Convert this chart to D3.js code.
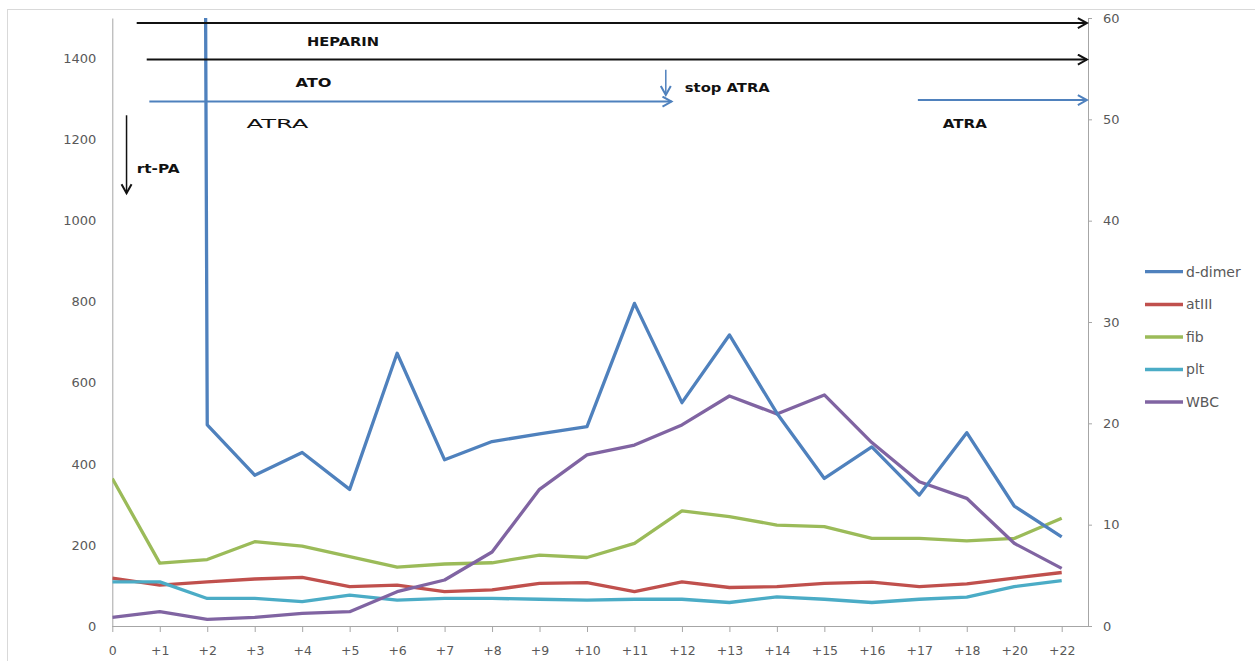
<!DOCTYPE html>
<html><head><meta charset="utf-8">
<script src="https://cdn.jsdelivr.net/npm/d3@7"></script>
<style>body{margin:0;background:#fff}svg{display:block}</style>
</head><body>
<script>
// ---- data ----
const categories = ["0","+1","+2","+3","+4","+5","+6","+7","+8","+9","+10","+11","+12","+13","+14","+15","+16","+17","+18","+20","+22"];
const dDimer = [null,30000,496,372,428,337,673,410,455,474,492,796,551,718,525,364,442,323,477,296,220];
const atIII  = [118,101,109,116,120,97,101,85,89,105,107,85,109,95,97,105,108,97,104,118,132];
const fib    = [364,155,164,208,197,171,145,153,156,175,169,204,284,270,249,245,216,216,210,216,266];
const plt    = [109,109,68,68,60,76,64,68,68,66,64,66,66,58,72,66,58,66,71,97,112];
const wbc    = [0.86,1.41,0.66,0.86,1.25,1.41,3.39,4.54,7.3,13.49,16.88,17.86,19.84,22.7,20.92,22.8,18.1,14.24,12.6,8.16,5.69];
const leftTicks  = [0,200,400,600,800,1000,1200,1400];
const rightTicks = [0,10,20,30,40,50,60];
const seriesNames = ["d-dimer","atIII","fib","plt","WBC"];
const seriesColors = ["#4F81BD","#C0504D","#9BBB59","#4BACC6","#8064A2"];

// ---- layout ----
const W = 1255, H = 661;
const pLeft = 112.3, lastX = 1061.7, pRight = 1088, pTop = 18, pBottom = 626;

const svg = d3.select("body").append("svg").attr("width", W).attr("height", H)
  .style("font-family", "'DejaVu Sans', sans-serif");

svg.append("rect").attr("x",7.5).attr("y",9.5).attr("width",1252).attr("height",660)
  .attr("fill","none").attr("stroke","#d9d9d9");

const x = d3.scalePoint().domain(categories).range([pLeft, lastX]);
const xi = d3.scaleLinear().domain([0, categories.length-1]).range([pLeft, lastX]);
const yL = d3.scaleLinear().domain([0,1500]).range([pBottom, pTop]);
const yR = d3.scaleLinear().domain([0,60]).range([pBottom, pTop]);

const axisColor = "#a6a6a6", labelColor = "#595959";

// left axis
const gL = svg.append("g").attr("transform",`translate(${pLeft},0)`)
  .call(d3.axisLeft(yL).tickValues(leftTicks).tickFormat(d3.format("d")).tickSize(0).tickSizeOuter(0).tickPadding(16));
gL.select(".domain").attr("stroke",axisColor);
gL.selectAll("text").attr("fill",labelColor).style("font-size","13px").style("font-family","'DejaVu Sans', sans-serif");

// right axis
const gR = svg.append("g").attr("transform",`translate(${pRight},0)`)
  .call(d3.axisRight(yR).tickValues(rightTicks).tickFormat(d3.format("d")).tickSize(4).tickSizeOuter(0).tickPadding(11));
gR.select(".domain").attr("stroke",axisColor);
gR.selectAll(".tick line").attr("stroke",axisColor);
gR.selectAll("text").attr("fill",labelColor).style("font-size","13px").style("font-family","'DejaVu Sans', sans-serif");

// x axis
const gX = svg.append("g").attr("transform",`translate(0,${pBottom})`)
  .call(d3.axisBottom(x).tickSize(6).tickPadding(14));
gX.select(".domain").remove();
gX.selectAll(".tick line").attr("stroke",axisColor);
gX.selectAll("text").attr("fill",labelColor).style("font-size","12.5px").style("font-family","'DejaVu Sans', sans-serif");
svg.append("line").attr("x1",pLeft).attr("x2",pRight+2).attr("y1",pBottom+0.5).attr("y2",pBottom+0.5)
  .attr("stroke",axisColor);

// clip
svg.append("clipPath").attr("id","plotclip").append("rect")
  .attr("x",pLeft).attr("y",pTop).attr("width",pRight-pLeft).attr("height",pBottom-pTop+2);

const plotG = svg.append("g").attr("clip-path","url(#plotclip)");
function drawSeries(vals, yScale, color){
  const line = d3.line().defined(d=>d!=null).x((d,i)=>x(categories[i])).y(d=>yScale(d));
  plotG.append("path").datum(vals).attr("d",line).attr("fill","none")
    .attr("stroke",color).attr("stroke-width",3.3).attr("stroke-linejoin","round");
}
drawSeries(fib, yL, seriesColors[2]);
drawSeries(atIII, yL, seriesColors[1]);
drawSeries(plt, yL, seriesColors[3]);
drawSeries(wbc, yR, seriesColors[4]);
drawSeries(dDimer, yL, seriesColors[0]);

// legend
const legendY = [271.7, 304.5, 337, 369.5, 402];
seriesNames.forEach((n,i)=>{
  svg.append("line").attr("x1",1145).attr("x2",1183).attr("y1",legendY[i]).attr("y2",legendY[i])
    .attr("stroke",seriesColors[i]).attr("stroke-width",3.3);
  svg.append("text").attr("x",1186).attr("y",legendY[i]).attr("dy","0.35em")
    .attr("fill",labelColor).style("font-size","14px").text(n);
});

// ---- annotations ----
const defs = svg.append("defs");
function marker(id, color){
  defs.append("marker").attr("id",id).attr("markerUnits","userSpaceOnUse")
    .attr("markerWidth",16).attr("markerHeight",16).attr("refX",10).attr("refY",6)
    .attr("orient","auto").append("path").attr("d","M1,1 L10,6 L1,11")
    .attr("fill","none").attr("stroke",color).attr("stroke-width",2);
}
marker("arrBlack","#111");
marker("arrBlue","#4F81BD");

const arrows = [
  {x1:0.514, x2:20.53, y1:59.5, y2:59.5, c:"#111", m:"arrBlack", w:2},
  {x1:0.725, x2:20.53, y1:55.9, y2:55.9, c:"#111", m:"arrBlack", w:2},
  {x1:0.78, x2:11.78, y1:51.75, y2:51.75, c:"#4F81BD", m:"arrBlue", w:2},
  {x1:16.97, x2:20.53, y1:51.9, y2:51.9, c:"#4F81BD", m:"arrBlue", w:2},
  {x1:11.66, x2:11.66, y1:54.9, y2:52.4, c:"#4F81BD", m:"arrBlue", w:1.5},
  {x1:0.30, x2:0.30, y1:50.4, y2:42.7, c:"#111", m:"arrBlack", w:1.5}
];
arrows.forEach(a=>{
  svg.append("line").attr("x1",xi(a.x1)).attr("x2",xi(a.x2)).attr("y1",yR(a.y1)).attr("y2",yR(a.y2))
    .attr("stroke",a.c).attr("stroke-width",a.w).attr("marker-end",`url(#${a.m})`);
});

const notes = [
  {t:"HEPARIN", x:4.86, y:57.66, anchor:"middle", bold:true, len:72},
  {t:"ATO", x:4.24, y:53.62, anchor:"middle", bold:true, len:36},
  {t:"ATRA", x:3.48, y:49.64, anchor:"middle", bold:false, len:62},
  {t:"stop ATRA", x:12.06, y:53.19, anchor:"start", bold:true, len:85},
  {t:"ATRA", x:17.96, y:49.64, anchor:"middle", bold:true, len:44},
  {t:"rt-PA", x:0.514, y:45.2, anchor:"start", bold:true, len:43}
];
notes.forEach(n=>{
  svg.append("text").attr("x",xi(n.x)).attr("y",yR(n.y)).attr("dy","0.36em")
    .attr("text-anchor",n.anchor).attr("fill","#111")
    .attr("textLength",n.len).attr("lengthAdjust","spacingAndGlyphs")
    .style("font-size","13px").style("font-weight",n.bold?"bold":"normal").text(n.t);
});
</script>
</body></html>
